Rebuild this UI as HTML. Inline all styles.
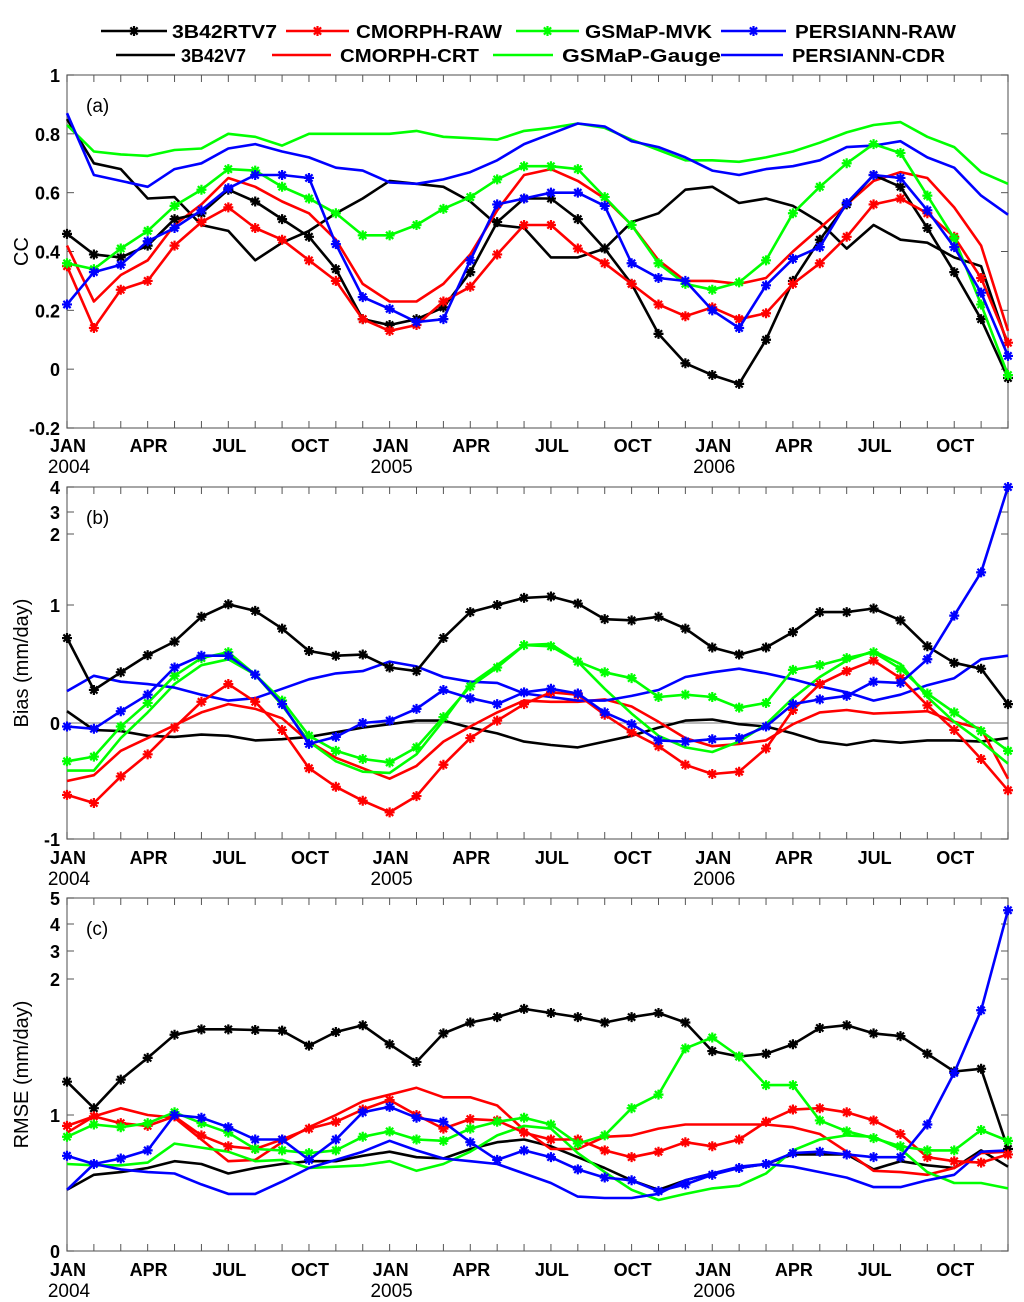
<!DOCTYPE html>
<html><head><meta charset="utf-8"><style>
html,body{margin:0;padding:0;background:#fff;}
svg{display:block;font-family:"Liberation Sans",Arial,sans-serif;}
</style></head><body>
<svg id="chart" width="1024" height="1302" viewBox="0 0 1024 1302" xmlns="http://www.w3.org/2000/svg">
<g id="legend"></g>
<g id="panels"></g>
</svg>
<script>
const months = ["JAN","FEB","MAR","APR","MAY","JUN","JUL","AUG","SEP","OCT","NOV","DEC"];
const years = ["2004","2005","2006"];
const seriesNames = ["3B42RTV7","CMORPH-RAW","GSMaP-MVK","PERSIANN-RAW","3B42V7","CMORPH-CRT","GSMaP-Gauge","PERSIANN-CDR"];
const seriesColors = ["#000","#f00","#0f0","#00f","#000","#f00","#0f0","#00f"];

// Panel (a) CC
const ccRTV7 = [.46,.39,.38,.42,.51,.53,.61,.57,.51,.45,.34,.17, .15,.17,.21,.33,.50,.58,.58,.51,.41,.29,.12,.02, -.02,-.05,.10,.30,.44,.56,.66,.62,.48,.33,.17,-.03];
const ccV7 = [.85,.70,.68,.58,.585,.49,.47,.37,.43,.47,.53,.58, .64,.63,.62,.57,.49,.48,.38,.38,.41,.50,.53,.61, .62,.565,.58,.555,.50,.41,.49,.44,.43,.38,.35,.08];
const ccCmRaw = [.35,.14,.27,.30,.42,.50,.55,.48,.44,.37,.30,.17, .13,.15,.23,.28,.39,.49,.49,.41,.36,.29,.22,.18, .21,.17,.19,.29,.36,.45,.56,.58,.53,.45,.31,.09];
const ccCmCrt = [.42,.23,.32,.37,.49,.56,.65,.62,.57,.53,.44,.29, .23,.23,.29,.39,.54,.66,.68,.64,.58,.49,.37,.30, .30,.29,.31,.40,.48,.56,.64,.67,.65,.55,.42,.13];
const ccGsMvk = [.36,.34,.41,.47,.555,.61,.68,.675,.62,.58,.53,.455, .455,.49,.545,.585,.645,.69,.69,.68,.585,.49,.36,.29, .27,.295,.37,.53,.62,.70,.765,.735,.59,.445,.22,-.02];
const ccGsGauge = [.83,.74,.73,.725,.745,.75,.80,.79,.76,.80,.80,.80, .80,.81,.79,.785,.78,.81,.82,.835,.82,.78,.745,.71, .71,.705,.72,.74,.77,.805,.83,.84,.79,.755,.67,.63];
const ccPeRaw = [.22,.33,.355,.435,.48,.54,.615,.66,.66,.65,.425,.245, .205,.16,.17,.37,.56,.58,.60,.60,.555,.36,.31,.30, .20,.14,.285,.375,.415,.565,.66,.65,.54,.415,.26,.045];
const ccPeCdr = [.87,.66,.64,.62,.68,.70,.75,.765,.74,.72,.685,.675, .635,.63,.645,.67,.71,.765,.80,.835,.825,.775,.755,.72, .675,.66,.68,.69,.71,.755,.76,.775,.72,.685,.59,.525];

// Panel (b) Bias
const biasRTV7 = [.72,.28,.43,.575,.69,.90,1.01,.95,.80,.61,.57,.58, .47,.44,.72,.94,1.0,1.10,1.12,1.02,.88,.87,.90,.80, .64,.58,.64,.77,.94,.94,.97,.87,.65,.51,.46,.16];
const biasV7 = [.10,-.06,-.07,-.11,-.12,-.10,-.11,-.15,-.14,-.12,-.08,-.04, -.01,.02,.02,-.04,-.09,-.16,-.19,-.21,-.16,-.11,-.04,.02, .03,-.01,-.03,-.09,-.16,-.19,-.15,-.17,-.15,-.15,-.16,-.13];
const biasCmRaw = [-.62,-.69,-.46,-.27,-.04,.18,.33,.18,-.06,-.39,-.55,-.67, -.77,-.63,-.36,-.13,.02,.16,.26,.24,.07,-.08,-.20,-.36, -.44,-.42,-.22,.11,.33,.44,.53,.38,.15,-.06,-.31,-.58];
const biasCmCrt = [-.50,-.45,-.24,-.13,-.02,.09,.16,.12,.04,-.16,-.30,-.39, -.48,-.37,-.16,-.03,.09,.19,.18,.18,.20,.14,.01,-.13, -.20,-.18,-.15,-.01,.09,.11,.08,.09,.10,.01,-.05,-.48];
const biasGsMvk = [-.33,-.29,-.03,.17,.40,.55,.60,.41,.19,-.11,-.24,-.31, -.34,-.21,.05,.31,.47,.66,.65,.52,.43,.38,.22,.24, .22,.13,.17,.45,.49,.55,.60,.46,.25,.09,-.07,-.24];
const biasGsGauge = [-.41,-.41,-.13,.09,.33,.49,.54,.41,.15,-.16,-.33,-.42, -.43,-.27,.02,.33,.49,.66,.67,.52,.29,.08,-.11,-.21, -.25,-.16,-.01,.21,.39,.53,.61,.50,.22,.01,-.16,-.35];
const biasPeRaw = [-.03,-.05,.10,.24,.47,.57,.57,.41,.16,-.18,-.12,0, .02,.12,.28,.21,.16,.26,.29,.25,.09,-.01,-.15,-.16, -.14,-.13,-.03,.16,.20,.23,.35,.34,.54,.91,1.46,4.0];
const biasPeCdr = [.27,.40,.35,.33,.30,.24,.19,.21,.29,.37,.42,.44, .52,.48,.39,.35,.34,.25,.22,.19,.19,.23,.28,.39, .43,.46,.42,.37,.31,.26,.19,.24,.32,.38,.54,.57];

// Panel (c) RMSE
const rmseRTV7 = [1.245,1.05,1.26,1.42,1.59,1.63,1.63,1.625,1.62,1.51,1.61,1.66, 1.52,1.39,1.60,1.68,1.72,1.78,1.75,1.72,1.68,1.72,1.75,1.68, 1.47,1.43,1.45,1.52,1.64,1.66,1.60,1.58,1.45,1.32,1.34,.75];
const rmseV7 = [.45,.56,.58,.61,.66,.64,.57,.61,.64,.66,.66,.70, .73,.69,.68,.75,.80,.82,.77,.69,.61,.52,.45,.52, .57,.61,.64,.71,.71,.71,.60,.66,.63,.61,.74,.62];
const rmseCmRaw = [.92,.99,.94,.92,.99,.85,.77,.75,.82,.90,.95,1.04, 1.11,1.00,.90,.97,.96,.87,.82,.82,.74,.69,.73,.80, .77,.82,.95,1.04,1.05,1.02,.96,.86,.69,.66,.65,.71];
const rmseCmCrt = [.87,.99,1.05,1.00,.98,.82,.66,.67,.80,.91,1.00,1.10, 1.15,1.20,1.13,1.13,1.07,.89,.75,.75,.84,.85,.90,.93, .93,.93,.93,.91,.86,.73,.59,.58,.56,.61,.72,.73];
const rmseGsMvk = [.84,.93,.91,.94,1.02,.94,.87,.75,.74,.72,.74,.84, .88,.82,.81,.90,.95,.98,.93,.79,.85,1.05,1.15,1.49, 1.57,1.43,1.22,1.22,.96,.88,.83,.77,.74,.74,.89,.81];
const rmseGsGauge = [.64,.63,.63,.65,.79,.76,.73,.66,.67,.61,.62,.63, .66,.59,.64,.73,.85,.92,.90,.72,.58,.45,.375,.42, .46,.48,.57,.74,.82,.85,.84,.75,.58,.50,.50,.46];
const rmsePeRaw = [.70,.64,.68,.74,1.00,.98,.91,.82,.82,.67,.82,1.02, 1.06,.98,.95,.80,.67,.74,.69,.60,.54,.52,.44,.49, .56,.61,.64,.72,.73,.71,.69,.69,.93,1.31,1.77,4.53];
const rmsePeCdr = [.45,.64,.60,.58,.57,.49,.42,.42,.51,.61,.67,.73, .81,.74,.68,.66,.64,.57,.50,.40,.39,.39,.42,.52, .57,.62,.64,.62,.58,.54,.47,.47,.52,.56,.73,.74];

const ccTicks = [1,0.8,0.6,0.4,0.2,0,-0.2];
const ccTickLabels = ["1","0.8","0.6","0.4","0.2","0","-0.2"];
const biasTicks = [-1,0,1,2,3,4];
const biasTickLabels = ["-1","0","1","2","3","4"];
const rmseTicks = [0,1,2,3,4,5];
const rmseTickLabels = ["0","1","2","3","4","5"];

const NS = "http://www.w3.org/2000/svg";
const X0 = 67, X1 = 1008, N = 36;
function xScale(i){ return X0 + i*(X1-X0)/(N-1); }
function piecewise(vals, ys){
  return function(v){
    for(let k=0;k<vals.length-1;k++){
      if(v<=vals[k+1] || k===vals.length-2){
        return ys[k] + (v-vals[k])*(ys[k+1]-ys[k])/(vals[k+1]-vals[k]);
      }
    }
  };
}
function mk(tag, attrs, parent){
  const e=document.createElementNS(NS,tag);
  for(const k in attrs) e.setAttribute(k,attrs[k]);
  parent.appendChild(e); return e;
}
const svg=document.getElementById('chart');
const panels=document.getElementById('panels');

function star(g,x,y,color){
  const r=5;
  const d=`M${x-r},${y}L${x+r},${y}M${x},${y-r}L${x},${y+r}M${x-3.6},${y-3.6}L${x+3.6},${y+3.6}M${x-3.6},${y+3.6}L${x+3.6},${y-3.6}`;
  const p=mk('path',{d:d,stroke:color,'stroke-width':2.2,fill:'none'},g);
  
  
}

function drawPanel(cfg){
  const g=mk('g',{},panels);
  
  
  const yS=cfg.yScale;
  const top=cfg.top, bot=cfg.bottom;
  // frame
  const fr=mk('rect',{x:X0,y:top,width:X1-X0,height:bot-top,fill:'none',stroke:'#777','stroke-width':1.3},g);
  
  
  // x ticks
  for(let i=0;i<N;i++){
    const x=xScale(i);
    mk('line',{x1:x,y1:bot,x2:x,y2:bot-7,stroke:'#555','stroke-width':1},g);
    mk('line',{x1:x,y1:top,x2:x,y2:top+7,stroke:'#555','stroke-width':1},g);
    if(i%3===0){
      const t=mk('text',{x:x+1,y:cfg.monthY,'text-anchor':'middle','font-size':18,'font-weight':'bold'},g);
      t.textContent=months[i%12];
      
      
    }
    if(i%12===0){
      const t=mk('text',{x:x+2,y:cfg.monthY+21,'text-anchor':'middle','font-size':19},g);
      t.textContent=years[i/12];
      
      
    }
  }
  // y ticks
  cfg.ticks.forEach((v,k)=>{
    const y=yS(v);
    mk('line',{x1:X0,y1:y,x2:X0+7,y2:y,stroke:'#555','stroke-width':1},g);
    mk('line',{x1:X1,y1:y,x2:X1-7,y2:y,stroke:'#555','stroke-width':1},g);
    const t=mk('text',{x:60,y:y+7,'text-anchor':'end','font-size':18,'font-weight':'bold'},g);
    t.textContent=cfg.tickLabels[k];
    
    
  });
  if(cfg.zeroLine){
    const zl=mk('line',{x1:X0,y1:yS(0),x2:X1,y2:yS(0),stroke:'#777','stroke-width':1},g);
    
    
  }
  // y title
  const cy=(top+bot)/2;
  const yt=mk('text',{x:0,y:0,'text-anchor':'middle','font-size':20,transform:`translate(28,${cy}) rotate(-90)`},g);
  yt.textContent=cfg.ytitle;
  
  
  const pl=mk('text',{x:86,y:top+37,'font-size':19},g);
  pl.textContent=cfg.label;
  
  
  // series: plain lines first (indices 4..7), then starred (0..3)
  const order=[4,5,6,7,0,1,2,3];
  order.forEach(s=>{
    const data=cfg.series[s];
    const pts=data.map((v,i)=>xScale(i).toFixed(1)+','+yS(v).toFixed(1)).join(' ');
    const pl2=mk('polyline',{points:pts,fill:'none',stroke:seriesColors[s],'stroke-width':2.6,'stroke-linejoin':'round'},g);
    
    
    if(s<4){ data.forEach((v,i)=>star(g,xScale(i),yS(v),seriesColors[s])); }
  });
}

drawPanel({name:'panel-a-cc',label:'(a)',ytitle:'CC',top:75,bottom:428,monthY:452,
  yScale:piecewise([-0.2,1],[428,75]),ticks:ccTicks,tickLabels:ccTickLabels,
  series:[ccRTV7,ccCmRaw,ccGsMvk,ccPeRaw,ccV7,ccCmCrt,ccGsGauge,ccPeCdr]});
drawPanel({name:'panel-b-bias',label:'(b)',ytitle:'Bias (mm/day)',top:487,bottom:839,monthY:864,zeroLine:true,
  yScale:piecewise(biasTicks,[839,723,605,534,512,487]),ticks:biasTicks,tickLabels:biasTickLabels,
  series:[biasRTV7,biasCmRaw,biasGsMvk,biasPeRaw,biasV7,biasCmCrt,biasGsGauge,biasPeCdr]});
drawPanel({name:'panel-c-rmse',label:'(c)',ytitle:'RMSE (mm/day)',top:898,bottom:1251,monthY:1276,
  yScale:piecewise(rmseTicks,[1251,1115,979,951,924,898]),ticks:rmseTicks,tickLabels:rmseTickLabels,
  series:[rmseRTV7,rmseCmRaw,rmseGsMvk,rmsePeRaw,rmseV7,rmseCmCrt,rmseGsGauge,rmsePeCdr]});

// legend
const leg=document.getElementById('legend');
const legendPos=[
  {lx:101,lw:66,tx:172,tw:105,y:31},{lx:286,lw:63,tx:356,tw:146,y:31},
  {lx:516,lw:63,tx:585,tw:127,y:31},{lx:721,lw:65,tx:795,tw:161,y:31},
  {lx:116,lw:59,tx:181,tw:65,y:55},{lx:272,lw:59,tx:340,tw:139,y:55},
  {lx:493,lw:60,tx:562,tw:159,y:55},{lx:721,lw:62,tx:792,tw:153,y:55}];
seriesNames.forEach((nm,s)=>{
  const p=legendPos[s];
  const ge=mk('g',{},leg);
  
  
  mk('line',{x1:p.lx,y1:p.y,x2:p.lx+p.lw,y2:p.y,stroke:seriesColors[s],'stroke-width':2.6},ge);
  if(s<4) star(ge,p.lx+p.lw/2,p.y,seriesColors[s]);
  const t=mk('text',{x:p.tx,y:p.y+7,'font-size':18,'font-weight':'bold',textLength:p.tw,lengthAdjust:'spacingAndGlyphs'},ge);
  t.textContent=nm;
  
  
});
</script>
</body></html>
